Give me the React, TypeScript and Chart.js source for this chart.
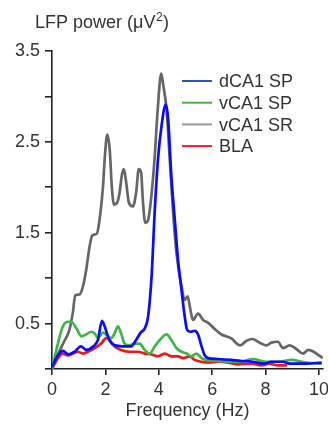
import { useEffect, useRef } from 'react';
import { Chart, registerables } from 'chart.js';

Chart.register(...registerables);

const FONT = "'Liberation Sans', Arial, Helvetica, sans-serif";

// Series: dCA1 SP (blue)
const dca1Freq = [0, 0.22, 0.41, 0.62, 0.85, 1.08, 1.29, 1.55, 1.72, 1.87, 1.97, 2.16, 2.36, 2.65, 2.96, 3.15, 3.32, 3.48, 3.6, 3.73, 3.85, 3.97, 4.1, 4.26, 4.35, 4.47, 4.6, 4.72, 4.85, 4.97, 5.06, 5.18, 5.35, 5.47, 5.6, 5.72, 5.85, 6.2, 6.7, 7.05, 7.5, 7.95, 8.2, 8.65, 8.9, 9.5, 10.1];
const dca1Power = [0.02, 0.15, 0.2, 0.16, 0.19, 0.25, 0.21, 0.25, 0.32, 0.53, 0.47, 0.31, 0.26, 0.25, 0.25, 0.32, 0.4, 0.45, 0.58, 1.02, 1.75, 2.31, 2.67, 2.91, 2.75, 2.12, 1.64, 1.2, 0.87, 0.58, 0.43, 0.41, 0.42, 0.38, 0.25, 0.15, 0.12, 0.11, 0.1, 0.09, 0.08, 0.06, 0.08, 0.08, 0.06, 0.06, 0.07];

// Series: vCA1 SP (green)
const vca1SpFreq = [0, 0.22, 0.41, 0.6, 0.72, 0.91, 1.1, 1.28, 1.47, 1.6, 1.72, 1.91, 2.06, 2.22, 2.34, 2.47, 2.59, 2.72, 2.9, 3.09, 3.28, 3.47, 3.66, 3.85, 4.1, 4.29, 4.47, 4.66, 4.85, 5.04, 5.22, 5.41, 5.6, 5.78, 6.22, 6.72, 7.1, 7.53, 8.0, 8.5, 8.96, 9.5, 10.1];
const vca1SpPower = [0, 0.28, 0.47, 0.52, 0.52, 0.45, 0.36, 0.38, 0.41, 0.39, 0.34, 0.4, 0.37, 0.34, 0.39, 0.47, 0.39, 0.28, 0.26, 0.28, 0.28, 0.21, 0.17, 0.25, 0.34, 0.38, 0.32, 0.23, 0.19, 0.17, 0.14, 0.17, 0.12, 0.1, 0.09, 0.08, 0.08, 0.11, 0.08, 0.08, 0.1, 0.07, 0.06];

// Series: vCA1 SR (gray)
const vca1SrFreq = [0, 0.25, 0.45, 0.64, 0.78, 0.87, 1.03, 1.16, 1.28, 1.41, 1.51, 1.68, 1.78, 1.91, 1.99, 2.07, 2.16, 2.24, 2.32, 2.44, 2.53, 2.62, 2.69, 2.78, 2.88, 3.03, 3.15, 3.25, 3.34, 3.4, 3.49, 3.59, 3.71, 3.84, 3.96, 4.09, 4.17, 4.29, 4.41, 4.53, 4.66, 4.85, 4.97, 5.08, 5.16, 5.28, 5.47, 5.66, 5.84, 6.06, 6.35, 6.7, 7.05, 7.28, 7.5, 7.78, 8.03, 8.22, 8.46, 8.65, 8.9, 9.15, 9.4, 9.6, 9.8, 10.0, 10.14];
const vca1SrPower = [0, 0.18, 0.3, 0.42, 0.62, 0.81, 0.82, 0.91, 1.09, 1.35, 1.47, 1.49, 1.64, 2.01, 2.38, 2.58, 2.42, 2.01, 1.81, 1.83, 1.94, 2.14, 2.2, 2.05, 1.83, 1.79, 1.94, 2.2, 2.16, 1.87, 1.61, 1.63, 1.87, 2.31, 2.86, 3.25, 3.12, 2.86, 2.31, 1.75, 1.28, 0.91, 0.76, 0.8, 0.69, 0.54, 0.61, 0.54, 0.51, 0.45, 0.38, 0.34, 0.26, 0.31, 0.33, 0.29, 0.26, 0.29, 0.3, 0.23, 0.26, 0.22, 0.17, 0.21, 0.19, 0.15, 0.12];

// Series: BLA (red)
const blaFreq = [0, 0.22, 0.41, 0.6, 0.79, 0.97, 1.16, 1.35, 1.6, 1.84, 2.03, 2.16, 2.34, 2.59, 2.9, 3.21, 3.48, 3.72, 3.97, 4.22, 4.47, 4.72, 4.91, 5.16, 5.35, 5.6, 5.84, 6.22, 6.6, 6.97, 7.47, 7.84, 8.15, 8.45, 8.8];
const blaPower = [0, 0.12, 0.17, 0.15, 0.17, 0.19, 0.17, 0.19, 0.23, 0.28, 0.34, 0.32, 0.25, 0.21, 0.19, 0.19, 0.17, 0.16, 0.14, 0.17, 0.14, 0.14, 0.12, 0.14, 0.1, 0.08, 0.07, 0.08, 0.07, 0.05, 0.06, 0.04, 0.06, 0.04, 0.04];

const seriesLabels = ['dCA1 SP', 'vCA1 SP', 'vCA1 SR', 'BLA'];
const lineColors = ['#0a0aff', '#3fb548', '#666666', '#f51414'];
const legendColors = ['#3552b2', '#44b24a', '#999999', '#ea2228'];

const xTickValues = [0, 2, 4, 6, 8, 10];
const yTickValues = [0, 0.5, 1, 1.5, 2, 2.5, 3, 3.5];
const yLabelValues = [0.5, 1.5, 2.5, 3.5];

const yTitleMain = 'LFP power (μV';
const yTitleSup = '2';
const yTitleEnd = ')';
const xTitle = 'Frequency (Hz)';

const toPoints = (xs: number[], ys: number[]) => xs.map((x, i) => ({ x, y: ys[i] }));

const overlayPlugin = {
  id: 'overlay',
  afterDraw(chart: any) {
    const ctx = chart.ctx as CanvasRenderingContext2D;
    ctx.save();
    // Top-left axis title
    ctx.fillStyle = '#333';
    ctx.textBaseline = 'alphabetic';
    ctx.textAlign = 'left';
    ctx.font = `18px ${FONT}`;
    let x = 35;
    ctx.fillText(yTitleMain, x, 28);
    x += ctx.measureText(yTitleMain).width;
    ctx.font = `12px ${FONT}`;
    ctx.fillText(yTitleSup, x + 0.5, 21);
    x += ctx.measureText(yTitleSup).width + 1;
    ctx.font = `18px ${FONT}`;
    ctx.fillText(yTitleEnd, x, 28);

    // Legend
    chart.data.datasets.forEach((ds: any, i: number) => {
      const y = 81 + i * 21.7;
      ctx.strokeStyle = legendColors[i];
      ctx.lineWidth = 2;
      ctx.beginPath();
      ctx.moveTo(182, y);
      ctx.lineTo(212, y);
      ctx.stroke();
      ctx.fillStyle = '#333';
      ctx.font = `18px ${FONT}`;
      ctx.fillText(ds.label, 219, y + 6.3);
    });
    ctx.restore();
  },
};

export default function App() {
  const ref = useRef<HTMLCanvasElement>(null);
  useEffect(() => {
    const seriesX = [dca1Freq, vca1SpFreq, vca1SrFreq, blaFreq];
    const seriesY = [dca1Power, vca1SpPower, vca1SrPower, blaPower];
    const chart = new Chart(ref.current as HTMLCanvasElement, {
      type: 'line',
      data: {
        datasets: seriesLabels.map((label, i) => ({
          label,
          data: toPoints(seriesX[i], seriesY[i]),
          borderColor: lineColors[i],
          backgroundColor: lineColors[i],
          borderWidth: 2.7,
          pointRadius: 0,
          fill: false,
          cubicInterpolationMode: 'monotone' as const,
        })),
      },
      options: {
        animation: false,
        responsive: false,
        devicePixelRatio: 1,
        layout: { padding: { top: 51, right: 5, left: 0, bottom: 0 } },
        plugins: { legend: { display: false }, tooltip: { enabled: false }, title: { display: false } },
        scales: {
          x: {
            type: 'linear',
            min: 0,
            max: 10.15,
            afterBuildTicks: (s: any) => {
              s.ticks = xTickValues.map((v) => ({ value: v }));
            },
            afterFit: (s: any) => {
              s.height = 60;
              s.paddingRight = 0;
              s.paddingLeft = 0;
            },
            border: { display: true, color: '#222', width: 1.6 },
            grid: { drawOnChartArea: false, drawTicks: true, tickLength: 6, color: '#222', lineWidth: 1.6 },
            ticks: {
              padding: 4,
              color: '#333',
              font: { family: FONT, size: 18 },
              maxRotation: 0,
              autoSkip: false,
              callback: (v: any) => String(v),
            },
            title: {
              display: true,
              text: xTitle,
              color: '#333',
              font: { family: FONT, size: 18 },
              padding: { top: 0, bottom: 7 },
            },
          },
          y: {
            type: 'linear',
            min: 0,
            max: 3.5,
            afterBuildTicks: (s: any) => {
              s.ticks = yTickValues.map((v) => ({ value: v }));
            },
            afterFit: (s: any) => {
              s.width = 52;
              s.paddingTop = 0;
              s.paddingBottom = 0;
            },
            border: { display: true, color: '#222', width: 1.6 },
            grid: { drawOnChartArea: false, drawTicks: true, tickLength: 7, color: '#222', lineWidth: 1.6 },
            ticks: {
              padding: 5,
              color: '#333',
              font: { family: FONT, size: 18 },
              autoSkip: false,
              callback: (v: any) => (yLabelValues.includes(Number(v)) ? String(v) : ''),
            },
          },
        },
      },
      plugins: [overlayPlugin],
    } as any);
    return () => chart.destroy();
  }, []);
  return (
    <div style={{ position: 'absolute', left: 0, top: 0, width: 328, height: 429, background: '#fff' }}>
      <canvas ref={ref} width={328} height={429} style={{ display: 'block' }} />
    </div>
  );
}
